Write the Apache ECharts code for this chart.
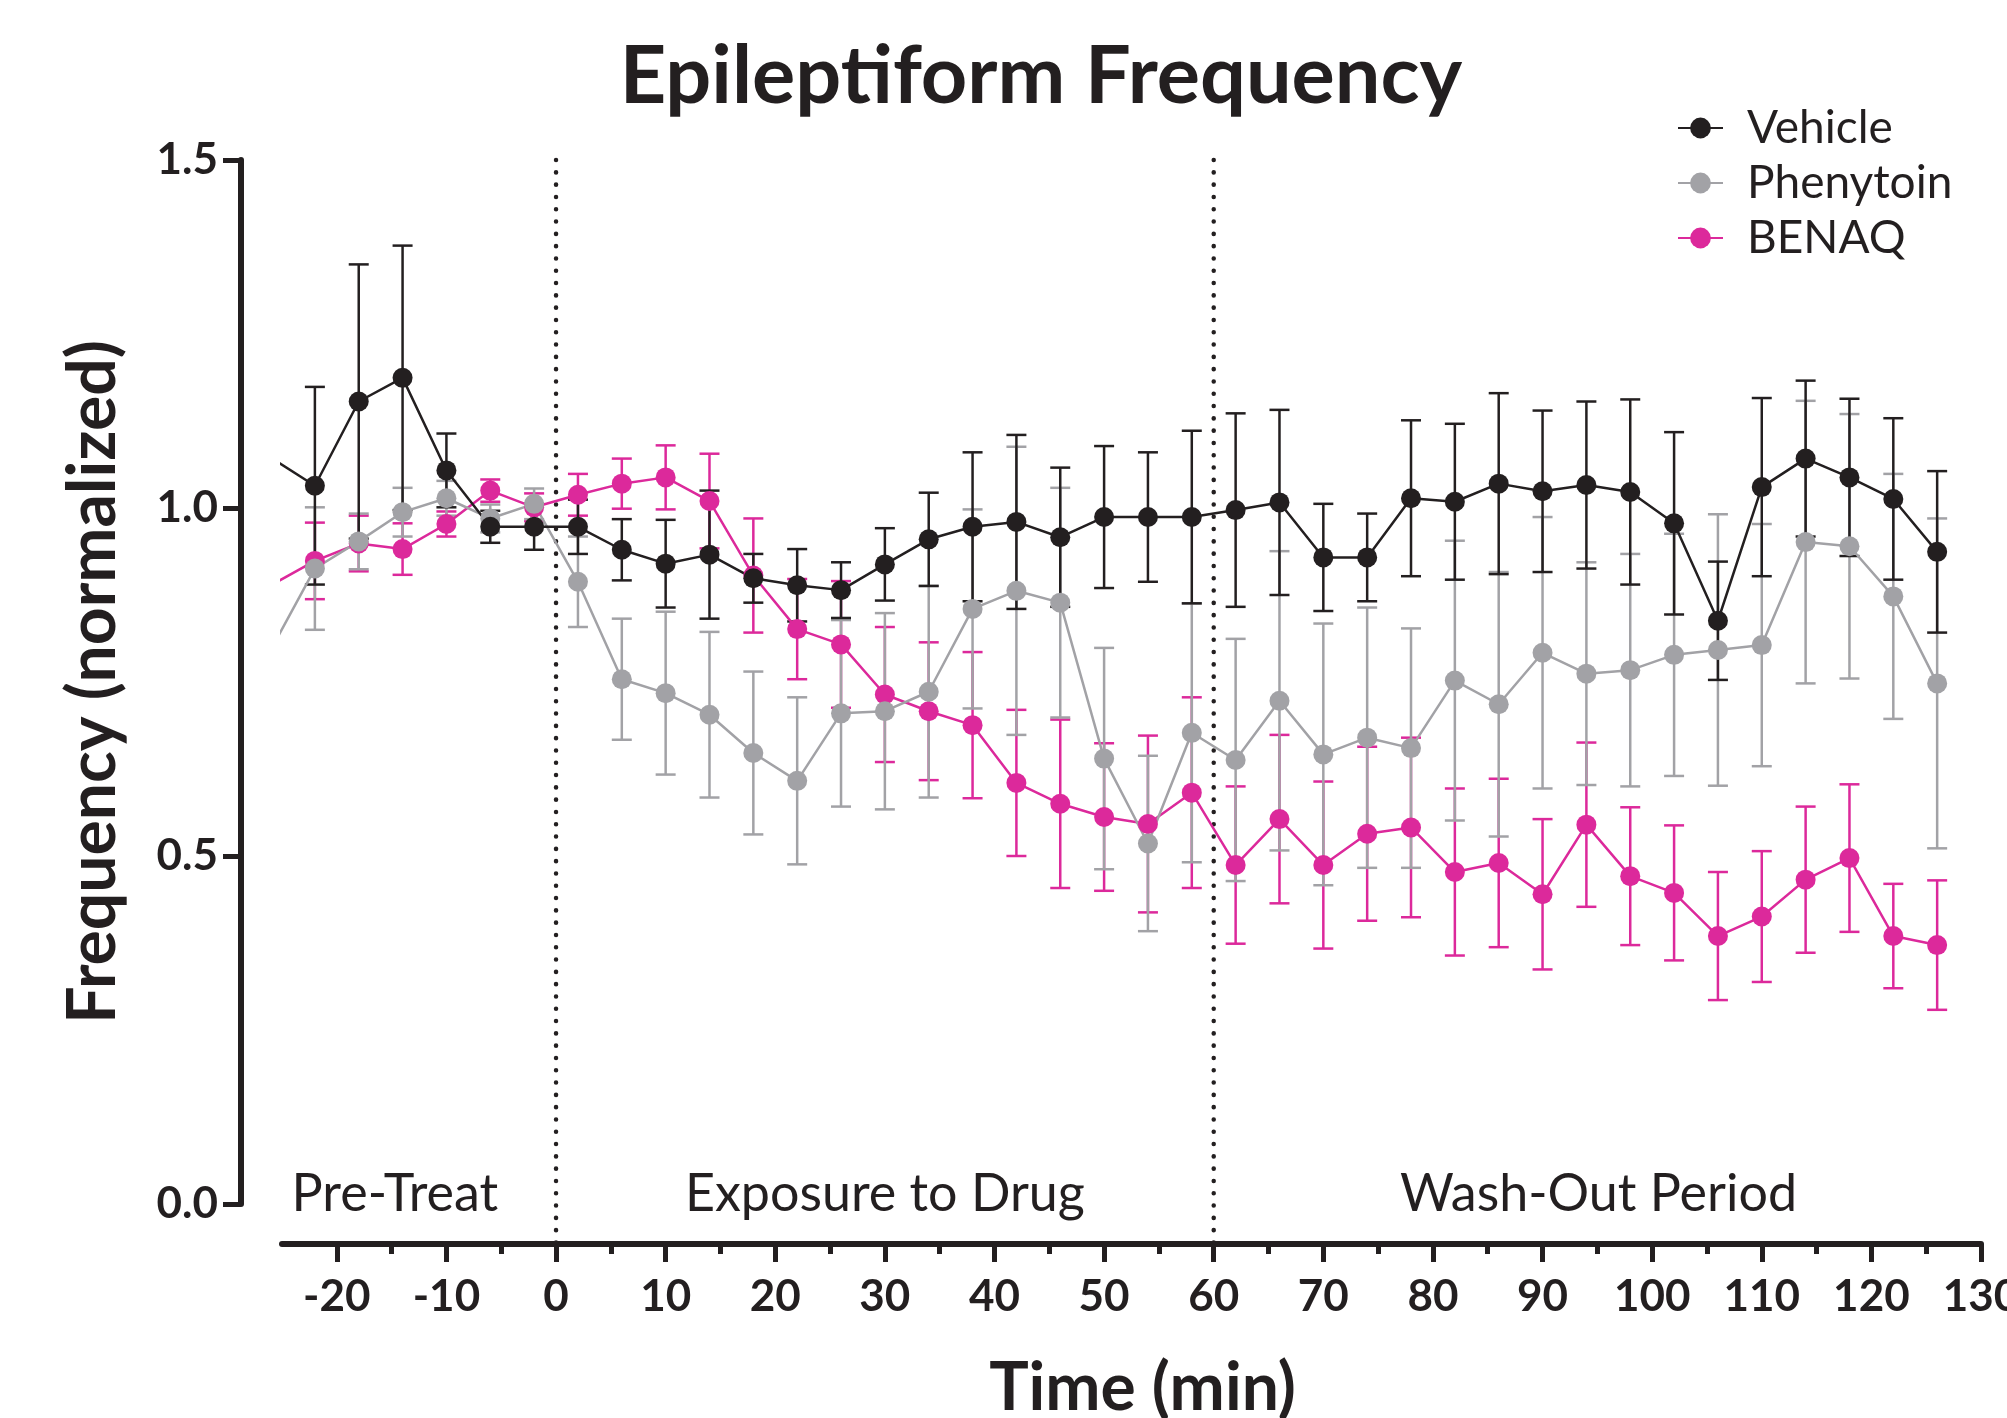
<!DOCTYPE html>
<html>
<head>
<meta charset="utf-8">
<script src="https://cdn.jsdelivr.net/npm/echarts@6/dist/echarts.min.js"></script>
<style>
html,body{margin:0;padding:0;background:#fff;}
#chart{width:2007px;height:1418px;}
</style>
</head>
<body>
<div id="chart"></div>
<script>
// ---- data ----
const times = [-26,-22,-18,-14,-10,-6,-2,2,6,10,14,18,22,26,30,34,38,42,46,50,54,58,62,66,70,74,78,82,86,90,94,98,102,106,110,114,118,122,126];

const vehicleMean = [1.072,1.032,1.153,1.187,1.054,0.973,0.973,0.973,0.940,0.920,0.933,0.899,0.889,0.882,0.919,0.955,0.973,0.980,0.958,0.987,0.987,0.987,0.997,1.008,0.929,0.929,1.014,1.009,1.035,1.024,1.033,1.023,0.978,0.838,1.030,1.071,1.044,1.013,0.937];
const vehicleSem  = [null,0.142,0.197,0.190,0.053,0.023,0.033,0.039,0.044,0.063,0.092,0.035,0.052,0.040,0.052,0.067,0.107,0.125,0.100,0.102,0.093,0.124,0.139,0.133,0.077,0.063,0.112,0.112,0.130,0.116,0.120,0.133,0.131,0.085,0.128,0.112,0.113,0.116,0.116];

const phenytoinMean = [0.797,0.913,0.952,0.994,1.014,0.985,1.006,0.894,0.754,0.734,0.703,0.648,0.608,0.705,0.708,0.736,0.855,0.881,0.864,0.640,0.518,0.677,0.638,0.723,0.646,0.670,0.655,0.752,0.718,0.792,0.762,0.767,0.789,0.796,0.803,0.951,0.945,0.873,0.748];
const phenytoinSem  = [null,0.088,0.040,0.035,0.025,0.020,0.022,0.065,0.087,0.117,0.119,0.117,0.120,0.134,0.141,0.152,0.143,0.207,0.165,0.159,0.126,0.186,0.174,0.215,0.188,0.187,0.172,0.201,0.190,0.195,0.160,0.167,0.174,0.195,0.174,0.203,0.190,0.176,0.237];

const benaqMean = [0.889,0.924,0.949,0.941,0.977,1.025,1.001,1.019,1.035,1.044,1.010,0.903,0.826,0.804,0.732,0.708,0.688,0.605,0.575,0.556,0.546,0.591,0.487,0.553,0.487,0.532,0.541,0.477,0.490,0.445,0.545,0.471,0.447,0.385,0.413,0.466,0.497,0.385,0.372];
const benaqSem  = [null,0.055,0.040,0.037,0.018,0.016,0.020,0.030,0.036,0.046,0.068,0.082,0.072,0.091,0.097,0.099,0.105,0.105,0.121,0.106,0.127,0.137,0.113,0.121,0.120,0.125,0.129,0.120,0.121,0.108,0.118,0.099,0.097,0.092,0.094,0.105,0.106,0.075,0.093];

const seriesNames = ['Vehicle','Phenytoin','BENAQ'];
const phaseBoundaries = [0, 60];
const phaseLabels = ['Pre-Treat','Exposure to Drug','Wash-Out Period'];
const phaseLabelX = [-14.7, 30, 95.1];
const phaseLabelY = 0.014;
const xMajorTicks = [-20,-10,0,10,20,30,40,50,60,70,80,90,100,110,120,130];
const xMinorTicks = [-15,-5,5,15,25,35,45,55,65,75,85,95,105,115,125];

// ---- styles ----
const FONT = 'Lato';
const INK = '#231f20';
const colors = {Vehicle:'#231f20', Phenytoin:'#a2a2a6', BENAQ:'#dc299b'};
const X_OFFSET = 40;

function pairs(means){ return times.map((t,i)=>[t, means[i]]); }
function errData(means, sems){
  const out = [];
  times.forEach((t,i)=>{ if (sems[i] != null) out.push([t, means[i]-sems[i], means[i]+sems[i]]); });
  return out;
}
function errSeries(name, means, sems){
  const c = colors[name];
  return {
    type:'custom', name: name + ' SEM', xAxisIndex:0, yAxisIndex:0,
    data: errData(means, sems), encode:{x:0, y:[1,2]}, clip:false, silent:true,
    renderItem: function(params, api){
      const x = api.value(0), lo = api.value(1), hi = api.value(2);
      const p1 = api.coord([x, hi]), p2 = api.coord([x, lo]);
      const w = 10;
      const style = {stroke:c, lineWidth:2.5, fill:null};
      return {type:'group', children:[
        {type:'line', shape:{x1:p1[0], y1:p1[1], x2:p2[0], y2:p2[1]}, style:style},
        {type:'line', shape:{x1:p1[0]-w, y1:p1[1], x2:p1[0]+w, y2:p1[1]}, style:style},
        {type:'line', shape:{x1:p2[0]-w, y1:p2[1], x2:p2[0]+w, y2:p2[1]}, style:style}
      ]};
    }
  };
}
function lineSeries(name, means){
  const c = colors[name];
  return {
    type:'line', name:name, xAxisIndex:0, yAxisIndex:0, data: pairs(means), clip:true,
    symbol:'circle', symbolSize:20, showAllSymbol:true,
    lineStyle:{color:c, width:2.5}, itemStyle:{color:c, opacity:1}, silent:true
  };
}

const chart = echarts.init(document.getElementById('chart'), null, {renderer:'canvas'});
const option = {
  animation:false,
  backgroundColor:'#fff',
  title:{
    text:'Epileptiform Frequency', left:1036, top:31, textAlign:'center',
    textStyle:{fontFamily:FONT, fontWeight:'bold', fontSize:81, color:INK}
  },
  legend:{
    data: seriesNames, orient:'vertical', left:1672, top:100,
    itemWidth:45, itemHeight:26, itemGap:9,
    textStyle:{fontFamily:FONT, fontSize:46, color:INK, padding:[0,0,0,19]}
  },
  grid:{left:282, right:26, top:160, bottom:214, containLabel:false, outerBoundsMode:'none'},
  xAxis:[{
    type:'value', min:-25, max:130, position:'bottom', offset:X_OFFSET,
    name:'Time (min)', nameLocation:'middle', nameGap:112,
    nameTextStyle:{fontFamily:FONT, fontWeight:'bold', fontSize:66, color:INK, padding:[0,0,0,22]},
    axisLine:{show:true, onZero:false, lineStyle:{color:INK, width:6}},
    axisTick:{show:true, length:18, lineStyle:{color:INK, width:5}, customValues:xMajorTicks},
    axisLabel:{show:true, margin:31, customValues:xMajorTicks, hideOverlap:false,
      fontFamily:FONT, fontWeight:'bold', fontSize:44, color:INK},
    splitLine:{show:false}
  },{
    type:'value', min:-25, max:130, position:'bottom', offset:X_OFFSET,
    axisLine:{show:false, onZero:false},
    axisTick:{show:true, length:10, lineStyle:{color:INK, width:5}, customValues:xMinorTicks},
    axisLabel:{show:false},
    splitLine:{show:false}
  }],
  yAxis:[{
    type:'value', min:0, max:1.5, interval:0.5, position:'left', offset:41,
    name:'Frequency (normalized)', nameLocation:'middle', nameGap:114,
    nameTextStyle:{fontFamily:FONT, fontWeight:'bold', fontSize:66, color:INK},
    axisLine:{show:true, onZero:false, lineStyle:{color:INK, width:6}},
    axisTick:{show:true, length:18, lineStyle:{color:INK, width:5}},
    axisLabel:{margin:23, fontFamily:FONT, fontWeight:'bold', fontSize:44, color:INK,
      formatter:function(v){ return v.toFixed(1); }},
    splitLine:{show:false}
  }],
  series:[
    {
      type:'custom', name:'phase boundaries', xAxisIndex:0, yAxisIndex:0, clip:false, silent:true,
      data: phaseBoundaries.map(b=>[b]), encode:{x:0},
      renderItem:function(params, api){
        const x = api.value(0);
        const top = api.coord([x, 1.5]);
        const bot = api.coord([x, 0]);
        return {type:'line', shape:{x1:top[0], y1:top[1], x2:bot[0], y2:bot[1]+X_OFFSET},
          style:{stroke:INK, lineWidth:4.5, lineDash:[0.1, 12.2], lineCap:'round'}};
      }
    },
    {
      type:'custom', name:'phase labels', xAxisIndex:0, yAxisIndex:0, clip:false, silent:true,
      data: phaseLabels.map((t,i)=>[phaseLabelX[i], phaseLabelY, i]), encode:{x:0, y:1},
      renderItem:function(params, api){
        const p = api.coord([api.value(0), api.value(1)]);
        return {type:'text', x:p[0], y:p[1],
          style:{text: phaseLabels[api.value(2)], fill:INK,
            fontSize:52, fontFamily:FONT, align:'center', verticalAlign:'middle'}};
      }
    },
    errSeries('BENAQ', benaqMean, benaqSem),
    lineSeries('BENAQ', benaqMean),
    errSeries('Phenytoin', phenytoinMean, phenytoinSem),
    lineSeries('Phenytoin', phenytoinMean),
    errSeries('Vehicle', vehicleMean, vehicleSem),
    lineSeries('Vehicle', vehicleMean)
  ]
};
chart.setOption(option);
</script>
</body>
</html>
